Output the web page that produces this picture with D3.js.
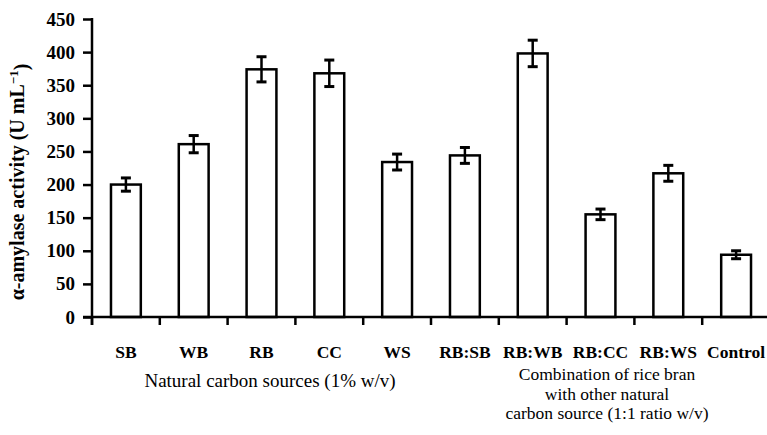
<!DOCTYPE html>
<html>
<head>
<meta charset="utf-8">
<script src="https://cdn.jsdelivr.net/npm/d3@7"></script>
<style>
  html, body { margin: 0; padding: 0; background: #fff; }
  svg { display: block; }
  svg text { font-family: 'Liberation Serif', 'Times New Roman', serif !important; fill: #000; }
</style>
</head>
<body>
<svg id="chart" width="767" height="435"></svg>
<script>
const categories = ["SB", "WB", "RB", "CC", "WS", "RB:SB", "RB:WB", "RB:CC", "RB:WS", "Control"];
const values = [200, 261, 374, 368, 234, 244, 398, 155, 217, 94];
const errors = [10, 13, 19, 20, 12, 12, 20, 8, 12, 6];
const yTicks = [0, 50, 100, 150, 200, 250, 300, 350, 400, 450];
const groupLabel1 = ["Natural carbon sources (1% w/v)"];
const groupLabel2 = ["Combination of rice bran", "with other natural", "carbon source (1:1 ratio w/v)"];
const yTitle = "α-amylase activity (U mL";

const svg = d3.select("#chart");
const x0 = 92, x1 = 770, yTop = 19, yBot = 317;

const x = d3.scaleBand().domain(categories).range([x0, x1]).padding(0);
const y = d3.scaleLinear().domain([0, 450]).range([yBot, yTop]);
const barW = x.bandwidth() * 0.44;

// Bars
svg.append("g").selectAll("rect").data(categories).join("rect")
  .attr("x", d => x(d) + x.bandwidth() / 2 - barW / 2)
  .attr("y", (d, i) => y(values[i]))
  .attr("width", barW)
  .attr("height", (d, i) => y(0) - y(values[i]))
  .attr("fill", "#fff")
  .attr("stroke", "#000")
  .attr("stroke-width", 2.5);

// Error bars
const eg = svg.append("g").attr("stroke", "#000");
categories.forEach((c, i) => {
  const cx = x(c) + x.bandwidth() / 2;
  const hi = y(values[i] + errors[i]), lo = y(values[i] - errors[i]);
  eg.append("line").attr("x1", cx).attr("x2", cx).attr("y1", hi).attr("y2", lo).attr("stroke-width", 2.5);
  eg.append("line").attr("x1", cx - 5).attr("x2", cx + 5).attr("y1", hi).attr("y2", hi).attr("stroke-width", 3);
  eg.append("line").attr("x1", cx - 5).attr("x2", cx + 5).attr("y1", lo).attr("y2", lo).attr("stroke-width", 3);
});

// Y axis
const yAxis = d3.axisLeft(y).tickValues(yTicks).tickSize(9).tickPadding(8).tickFormat(d3.format("d"));
const yg = svg.append("g").attr("transform", `translate(${x0},0)`).call(yAxis)
  .attr("font-family", null).attr("font-size", null);
yg.select(".domain").remove();
yg.selectAll(".tick line").attr("stroke", "#000").attr("stroke-width", 2.5);
yg.selectAll(".tick text").attr("font-weight", "bold").attr("font-size", 19).attr("fill", "#000");
svg.append("line").attr("x1", x0).attr("x2", x0).attr("y1", y(450) - 1).attr("y2", yBot + 8)
  .attr("stroke", "#000").attr("stroke-width", 2.5);

// X axis line
svg.append("line").attr("x1", x0 - 9).attr("x2", 767).attr("y1", yBot).attr("y2", yBot)
  .attr("stroke", "#000").attr("stroke-width", 2.5);
// Boundary ticks
const bounds = categories.map(c => x(c)).concat([x1]);
svg.append("g").selectAll("line").data(bounds).join("line")
  .attr("x1", d => d).attr("x2", d => d).attr("y1", yBot).attr("y2", yBot + 8)
  .attr("stroke", "#000").attr("stroke-width", 2.5);

// Category labels
const xAxis = d3.axisBottom(x).tickSize(0).tickPadding(0);
const xg = svg.append("g").attr("transform", `translate(0,${yBot})`).call(xAxis)
  .attr("font-family", null).attr("font-size", null);
xg.select(".domain").remove();
xg.selectAll(".tick text").attr("dy", null).attr("y", 41)
  .attr("font-weight", "bold").attr("font-size", 17.5).attr("fill", "#000");

// Group labels
svg.append("text").attr("x", 270).attr("y", 387).attr("text-anchor", "middle")
  .attr("font-size", 19).text(groupLabel1[0]);
svg.append("g").selectAll("text").data(groupLabel2).join("text")
  .attr("x", 607).attr("y", (d, i) => 380 + i * 19.5).attr("text-anchor", "middle")
  .attr("font-size", 17.5).text(d => d);

// Y title
const yt = svg.append("text").attr("transform", "translate(24,182) rotate(-90)")
  .attr("text-anchor", "middle").attr("font-size", 20).attr("font-weight", "bold");
yt.append("tspan").text(yTitle);
yt.append("tspan").attr("dy", "-0.5em").attr("font-size", 13).text("−1");
yt.append("tspan").attr("dy", "0.5em").text(")");
</script>
</body>
</html>
